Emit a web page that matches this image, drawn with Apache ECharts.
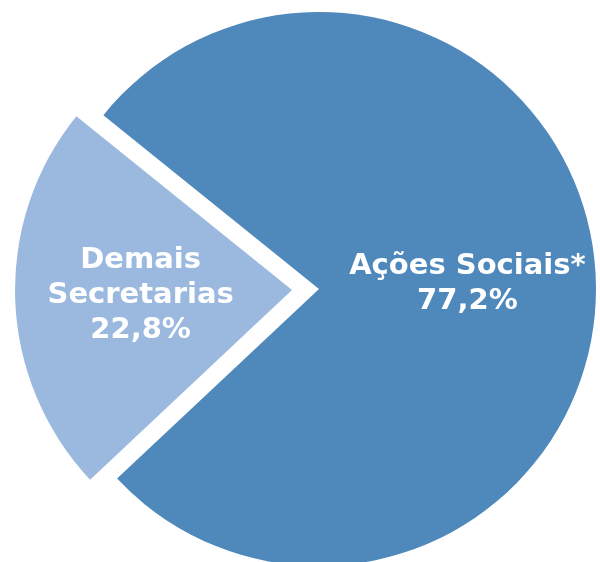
<!DOCTYPE html>
<html>
<head>
<meta charset="utf-8">
<script src="https://cdn.jsdelivr.net/npm/echarts@6/dist/echarts.min.js"></script>
<style>
  html, body { margin: 0; padding: 0; background: #fff; }
  #chart { width: 600px; height: 562px; }
</style>
</head>
<body>
<div id="chart"></div>
<script>
// dados do gráfico
var categorias = ["Demais\nSecretarias", "Ações Sociais*"];
var valores = [22.8, 77.2];
var cores = ["#9BB9DF", "#4F89BC"];
// ajuste fino da posição dos rótulos (padding)
var ajustes = [[0, 20, 0, 0], [6, 0, 0, 14]];

var chart = echarts.init(document.getElementById("chart"));

var dados = categorias.map(function (nome, i) {
  return {
    name: nome,
    value: valores[i],
    selected: i === 0,
    itemStyle: { color: cores[i] },
    label: { padding: ajustes[i] }
  };
});

var option = {
  animation: false,
  series: [
    {
      type: "pie",
      center: [319, 289],
      radius: 277,
      startAngle: 223.2,
      clockwise: true,
      selectedMode: "single",
      selectedOffset: 27,
      emphasis: { disabled: true },
      label: {
        show: true,
        position: "inner",
        color: "#fff",
        fontFamily: "DejaVu Sans",
        fontWeight: "bold",
        fontSize: 29,
        lineHeight: 35,
        align: "center",
        formatter: function (p) {
          return p.name + "\n" + p.value.toFixed(1).replace(".", ",") + "%";
        }
      },
      labelLine: { show: false },
      data: dados
    }
  ]
};

chart.setOption(option);
</script>
</body>
</html>
